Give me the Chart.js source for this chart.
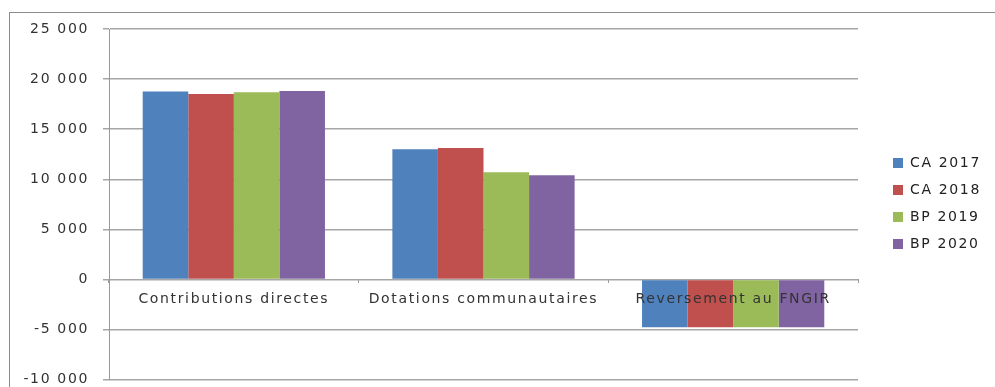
<!DOCTYPE html>
<html>
<head>
<meta charset="utf-8">
<script src="https://cdn.jsdelivr.net/npm/chart.js@4.4.1/dist/chart.umd.min.js"></script>
<style>
  html, body { margin: 0; padding: 0; background: #fff; }
  #wrap { position: relative; width: 995px; height: 387px; overflow: hidden; }
  #frame { position: absolute; left: 9px; top: 12px; width: 1000px; height: 400px; border: 1px solid #8c8c8c; }
  canvas { position: absolute; left: 0; top: 0; }
</style>
</head>
<body>
<div id="wrap">
  <div id="frame"></div>
  <!-- a bit taller than the view, the bottom strip gets clipped -->
  <canvas id="chart" width="995" height="402"></canvas>
</div>
<script>
const categories = ["Contributions directes", "Dotations communautaires", "Reversement au FNGIR"]
const seriesNames = ["CA 2017", "CA 2018", "BP 2019", "BP 2020"]
const ca2017 = [18770, 13000, -4780]
const ca2018 = [18500, 13130, -4780]
const bp2019 = [18680, 10700, -4780]
const bp2020 = [18820, 10400, -4780]
const colors = ["#4f81bd", "#c0504d", "#9bbb59", "#8064a2"]

const fmt = (v) => {
  let s = Math.abs(v).toString().replace(/\B(?=(\d{3})+(?!\d))/g, " ")
  return (v < 0 ? "-" : "") + s
}

let values = [ca2017, ca2018, bp2019, bp2020]
let datasets = values.map((d, i) => ({
  label: seriesNames[i],
  data: d,
  backgroundColor: colors[i],
  borderWidth: 0,
  barPercentage: 1.0,
  categoryPercentage: 0.73,
}))

// excel text looks wider than ours, add some spacing
const spacing = (c) => { c.ctx.letterSpacing = "1.65px" }

let ctx = document.getElementById("chart").getContext("2d")
let chart = new Chart(ctx, {
  type: "bar",
  data: { labels: categories, datasets: datasets },
  options: {
    responsive: false,
    animation: false,
    layout: { padding: { left: 0, top: 29, right: 0, bottom: 8 } },
    plugins: {
      legend: {
        position: "right",
        align: "center",
        labels: {
          boxWidth: 10,
          boxHeight: 10,
          padding: 13,
          color: "#222",
          font: { family: "DejaVu Sans", size: 14 },
        },
      },
      tooltip: { enabled: false },
    },
    scales: {
      x: {
        position: { y: 0 },
        grid: { display: true, drawOnChartArea: false, offset: true, tickLength: 4, color: "#999" },
        border: { display: false },
        ticks: { z: 1, color: "#333", padding: 8, autoSkip: false, maxRotation: 0, font: { family: "DejaVu Sans", size: 14 } },
      },
      y: {
        min: -10000,
        max: 25000,
        ticks: {
          stepSize: 5000,
          color: "#333",
          padding: 14,
          font: { family: "DejaVu Sans", size: 14 },
          callback: (v) => fmt(v),
        },
        grid: { color: "#a6a6a6", lineWidth: 1.5, tickLength: 6 },
        border: { display: true, color: "#999", width: 1 },
        afterFit: (s) => { s.width = 109 },
      },
    },
  },
  plugins: [{
    id: "tweaks",
    beforeInit(c) {
      const fit = c.legend.fit
      c.legend.fit = function () {
        fit.call(this)
        this.width = 995 - 858
      }
    },
    beforeUpdate: spacing,
    beforeLayout: spacing,
    beforeDraw: spacing,
    afterLayout(c) {
      c.legend.left += 22
      c.legend.right += 22
      c.legend.top -= 8
      c.legend.bottom -= 8
    },
  }],
})
</script>
</body>
</html>
